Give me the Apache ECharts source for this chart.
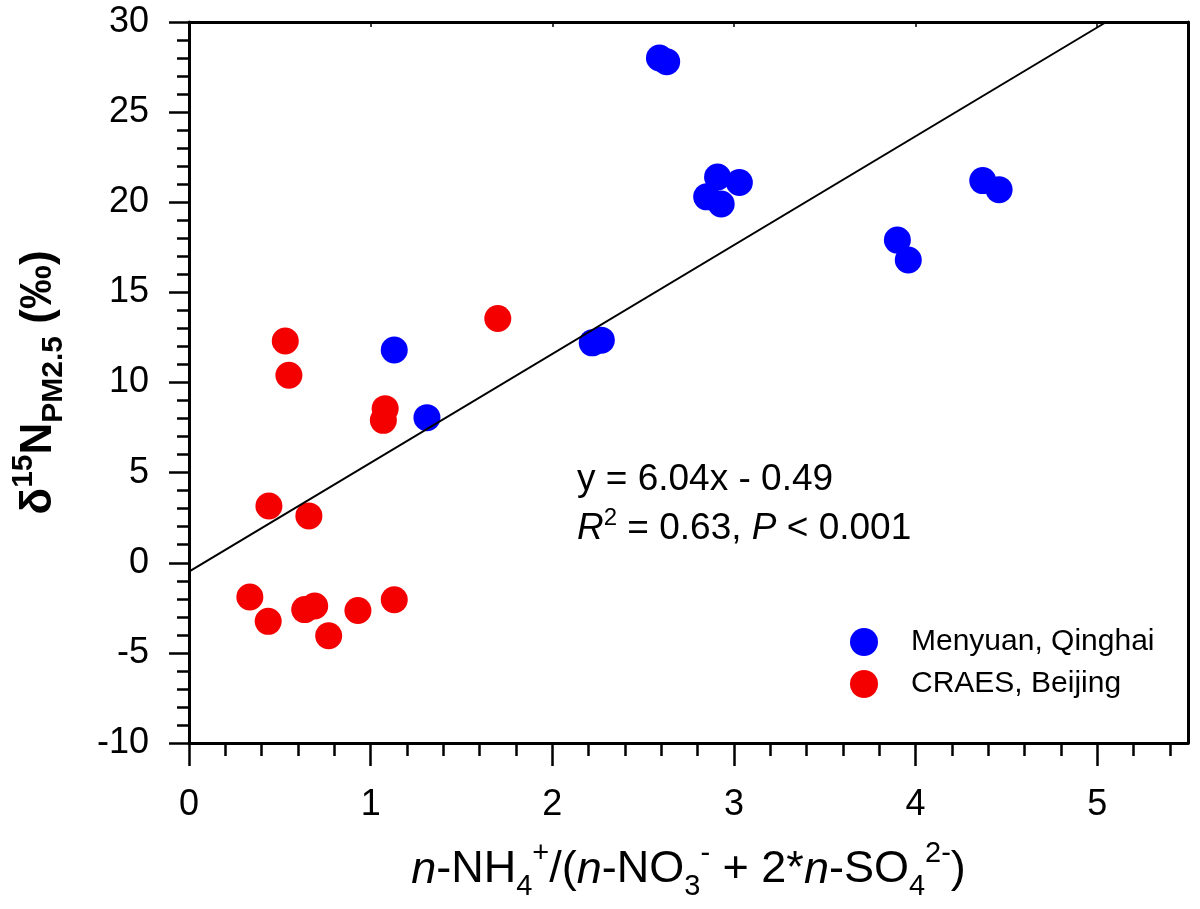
<!DOCTYPE html>
<html>
<head>
<meta charset="utf-8">
<script src="https://cdn.jsdelivr.net/npm/echarts@6/dist/echarts.min.js"></script>
<style>
html,body{margin:0;padding:0;background:#fff;}
#chart{width:1200px;height:909px;}
</style>
</head>
<body>
<div id="chart"></div>
<script>
// ---- data ----
var seriesNames = ['Menyuan, Qinghai', 'CRAES, Beijing'];
var blueX = [2.59, 2.63, 2.91, 3.03, 2.85, 2.93, 3.90, 3.96, 4.37, 4.46, 2.22, 2.27, 1.13, 1.31];
var blueY = [28.0, 27.8, 21.4, 21.1, 20.3, 19.9, 17.9, 16.8, 21.2, 20.7, 12.2, 12.35, 11.8, 8.05];
var redX = [0.53, 0.55, 1.08, 1.07, 1.70, 0.44, 0.66, 0.335, 0.436, 0.637, 0.692, 0.769, 0.93, 1.13];
var redY = [12.3, 10.4, 8.55, 7.9, 13.55, 3.15, 2.6, -1.9, -3.25, -2.6, -2.4, -4.05, -2.65, -2.05];
var fitX = [0, 5.05];
var fitY = [-0.49, 30.0];
var xTickValues = [0, 1, 2, 3, 4, 5];
var equationText = 'y = 6.04x - 0.49';
var statsText = '{i|R}{sup|2}{t| = 0.63, }{i|P}{t| < 0.001}';

function pairs(xs, ys) {
  var out = [];
  for (var i = 0; i < xs.length; i++) out.push([xs[i], ys[i]]);
  return out;
}

var FONT = '"Liberation Sans", Arial, sans-serif';
var chart = echarts.init(document.getElementById('chart'));

var axisLine = {show: true, onZero: false, lineStyle: {color: '#000', width: 3}};

var option = {
  animation: false,
  backgroundColor: '#fff',
  grid: {left: 189, top: 22, right: 12, bottom: 166, containLabel: false},
  legend: {
    data: seriesNames,
    orient: 'vertical',
    left: 845,
    top: 622,
    itemWidth: 28,
    itemHeight: 28,
    itemGap: 12,
    icon: 'circle',
    textStyle: {fontFamily: FONT, fontSize: 30, color: '#000', padding: [0, 0, 0, 28]}
  },
  xAxis: [{
    type: 'value',
    position: 'bottom',
    min: 0, max: 5.5, interval: 1,
    axisLine: axisLine,
    axisTick: {show: true, inside: false, length: 23, customValues: xTickValues, lineStyle: {color: '#000', width: 2.5}},
    minorTick: {show: true, splitNumber: 5, length: 13, lineStyle: {color: '#000', width: 2.5}},
    splitLine: {show: false},
    axisLabel: {show: true, customValues: xTickValues, margin: 44, fontFamily: FONT, fontSize: 36, color: '#000'},
    name: '{i|n}{t|-NH}{sub|4}{sup|+}{t|/(}{i|n}{t|-NO}{sub|3}{sup|-}{t| + 2*}{i|n}{t|-SO}{sub|4}{sup|2-}{t|)}',
    nameLocation: 'middle',
    nameGap: 96,
    nameTextStyle: {
      fontFamily: FONT, color: '#000',
      rich: {
        t: {fontFamily: FONT, fontSize: 45, color: '#000', lineHeight: 62},
        i: {fontFamily: FONT, fontSize: 45, fontStyle: 'italic', color: '#000', lineHeight: 62},
        sub: {fontFamily: FONT, fontSize: 29, color: '#000', verticalAlign: 'bottom', lineHeight: 29},
        sup: {fontFamily: FONT, fontSize: 29, color: '#000', verticalAlign: 'top', lineHeight: 29}
      }
    }
  }, {
    type: 'value',
    position: 'top',
    min: 0, max: 5.5, interval: 1,
    axisLine: axisLine,
    axisTick: {show: true, inside: true, length: 5, customValues: xTickValues, lineStyle: {color: '#000', width: 1.5}},
    axisLabel: {show: false},
    splitLine: {show: false}
  }],
  yAxis: [{
    type: 'value',
    position: 'left',
    min: -10, max: 30, interval: 5,
    axisLine: axisLine,
    axisTick: {show: true, inside: false, length: 20, lineStyle: {color: '#000', width: 2.5}},
    minorTick: {show: true, splitNumber: 5, length: 12, lineStyle: {color: '#000', width: 2.5}},
    splitLine: {show: false},
    axisLabel: {show: true, margin: 40, fontFamily: FONT, fontSize: 36, color: '#000'},
    name: '{b|δ}{sup|15}{b|N}{sub|PM2.5}{b| (‰)}',
    nameLocation: 'middle',
    nameRotate: 90,
    nameGap: 120,
    nameTextStyle: {
      fontFamily: FONT, color: '#000',
      rich: {
        b: {fontFamily: FONT, fontSize: 44, fontWeight: 'bold', color: '#000', lineHeight: 60},
        sub: {fontFamily: FONT, fontSize: 30, fontWeight: 'bold', color: '#000', verticalAlign: 'bottom', lineHeight: 30},
        sup: {fontFamily: FONT, fontSize: 30, fontWeight: 'bold', color: '#000', verticalAlign: 'top', lineHeight: 30}
      }
    }
  }, {
    type: 'value',
    position: 'right',
    min: -10, max: 30, interval: 5,
    axisLine: axisLine,
    axisTick: {show: false},
    axisLabel: {show: false},
    splitLine: {show: false}
  }],
  series: [{
    name: seriesNames[0],
    type: 'scatter',
    symbol: 'circle',
    symbolSize: 27,
    itemStyle: {color: '#0000ff', opacity: 1},
    data: pairs(blueX, blueY),
    z: 2
  }, {
    name: seriesNames[1],
    type: 'scatter',
    symbol: 'circle',
    symbolSize: 27,
    itemStyle: {color: '#f40000', opacity: 1},
    data: pairs(redX, redY),
    z: 2
  }, {
    name: 'fit',
    type: 'line',
    data: pairs(fitX, fitY),
    symbol: 'none',
    lineStyle: {color: '#000', width: 2},
    z: 5,
    silent: true
  }],
  graphic: [{
    type: 'text',
    left: 577,
    top: 461,
    style: {text: equationText, fontFamily: FONT, fontSize: 37, fill: '#000'}
  }, {
    type: 'text',
    left: 577,
    top: 506,
    style: {
      text: statsText,
      rich: {
        t: {fontFamily: FONT, fontSize: 37, fill: '#000', lineHeight: 46},
        i: {fontFamily: FONT, fontSize: 37, fontStyle: 'italic', fill: '#000', lineHeight: 46},
        sup: {fontFamily: FONT, fontSize: 24, fill: '#000', verticalAlign: 'top', lineHeight: 24}
      }
    }
  }]
};
chart.setOption(option);
</script>
</body>
</html>
